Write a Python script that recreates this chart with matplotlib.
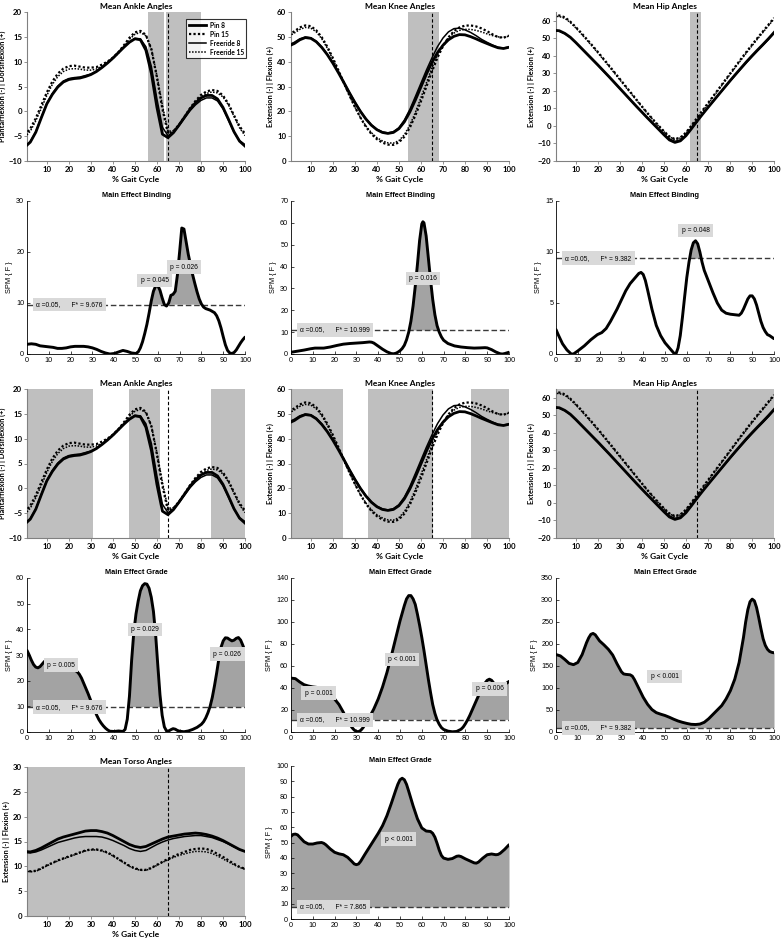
import numpy as np
import matplotlib
matplotlib.use("Agg")
import matplotlib.pyplot as plt

# ---- joint angle curves, % gait cycle every 2.5 ----
pct = np.arange(0, 100.1, 2.5)
series_names = ["Pin 8", "Pin 15", "Freeride 8", "Freeride 15"]

ankle_pin8 = [-7.2,-6.2,-4.2,-1.3,1.5,3.4,4.9,5.9,6.4,6.6,6.7,7.0,7.4,8.0,8.8,9.7,10.7,11.8,12.9,13.9,14.6,14.4,12.3,7.6,0.8,-4.6,-5.3,-4.3,-2.8,-1.2,0.4,1.7,2.7,3.2,3.2,2.5,0.8,-1.6,-4.1,-6.0,-7.0]
ankle_pin15 = [-4.8,-3.5,-1.4,1.2,3.8,6.0,7.6,8.6,9.1,9.2,9.0,8.8,8.8,8.9,9.4,10.0,10.8,11.9,13.3,14.8,15.9,16.2,15.4,12.5,6.8,0.5,-4.5,-4.0,-2.7,-1.1,0.6,2.1,3.3,4.0,4.3,4.1,3.2,1.5,-0.8,-3.0,-4.5]
ankle_fr8 = [-7.0,-6.1,-4.1,-1.2,1.6,3.6,5.1,6.1,6.6,6.8,6.9,7.2,7.5,8.1,8.9,9.8,10.8,11.9,13.0,14.0,14.7,14.6,13.0,9.0,2.5,-3.2,-4.9,-4.2,-2.9,-1.4,0.1,1.3,2.2,2.7,2.7,2.1,0.5,-1.8,-4.2,-5.9,-6.7]
ankle_fr15 = [-5.2,-4.0,-1.9,0.6,3.2,5.4,7.0,8.0,8.5,8.6,8.5,8.3,8.3,8.5,9.1,9.8,10.6,11.7,13.0,14.5,15.5,15.9,15.2,12.5,7.2,1.2,-4.0,-3.9,-2.7,-1.2,0.4,1.8,2.9,3.6,3.9,3.7,2.9,1.3,-1.0,-3.3,-4.9]

knee_pin8 = [46.3,47.3,48.8,49.7,49.4,48.0,45.7,42.8,39.4,35.6,31.6,27.5,23.6,20.0,16.9,14.4,12.6,11.5,11.1,11.5,13.0,15.8,19.8,24.6,29.8,35.0,39.7,43.6,46.6,48.8,50.2,50.9,50.8,50.1,49.2,48.2,47.3,46.4,45.6,45.3,45.8]
knee_pin15 = [50.8,52.2,53.8,54.6,54.3,52.6,49.8,46.0,41.5,36.6,31.5,26.5,21.8,17.5,13.8,10.9,8.8,7.4,6.6,6.5,7.5,9.8,13.5,18.4,24.0,30.0,36.0,41.6,46.2,49.8,52.3,53.8,54.5,54.6,54.2,53.4,52.3,51.0,49.9,49.6,50.5]
knee_fr8 = [46.8,47.8,49.2,49.9,49.6,48.2,45.9,43.0,39.6,35.8,31.8,27.7,23.8,20.2,17.1,14.6,12.8,11.7,11.3,11.8,13.4,16.5,20.8,26.0,31.3,36.6,41.5,46.0,49.5,52.0,53.3,53.5,52.8,51.8,50.5,49.0,47.8,46.7,45.8,45.5,45.9]
knee_fr15 = [50.3,51.5,53.0,53.8,53.5,52.0,49.2,45.4,41.0,36.2,31.2,26.3,21.7,17.6,14.1,11.4,9.4,8.1,7.3,7.2,8.2,10.6,14.5,19.6,25.5,31.5,37.5,42.7,46.8,49.6,51.5,52.6,53.0,53.0,52.6,52.0,51.2,50.5,50.0,49.7,50.3]

hip_pin8 = [54.6,54.3,52.8,50.6,47.6,44.4,41.2,38.0,34.8,31.5,28.2,24.8,21.4,18.0,14.6,11.2,7.9,4.6,1.4,-1.8,-5.0,-8.0,-9.4,-8.5,-5.6,-1.6,2.6,6.6,10.5,14.3,18.1,21.9,25.7,29.4,33.0,36.6,40.0,43.3,46.5,49.8,53.3]
hip_pin15 = [63.2,63.0,62.0,59.5,56.4,53.0,49.5,45.9,42.2,38.4,34.6,30.7,26.8,22.9,19.0,15.1,11.2,7.4,3.8,0.3,-3.0,-6.0,-7.5,-6.6,-3.8,0.2,4.5,8.8,13.0,17.2,21.4,25.6,29.8,34.0,38.2,42.3,46.3,50.2,54.0,57.8,61.6]
hip_fr8 = [54.2,54.0,52.6,50.4,47.4,44.2,41.0,37.8,34.6,31.3,28.0,24.7,21.3,17.9,14.5,11.2,7.9,4.7,1.6,-1.5,-4.6,-7.4,-8.8,-8.0,-5.2,-1.3,2.8,6.7,10.5,14.2,18.0,21.7,25.4,29.0,32.6,36.1,39.5,42.8,46.0,49.3,52.8]
hip_fr15 = [62.6,62.4,61.4,59.0,55.9,52.5,49.0,45.4,41.7,37.9,34.1,30.2,26.3,22.4,18.6,14.7,10.9,7.1,3.5,0.0,-3.3,-6.2,-7.8,-6.9,-4.2,-0.3,4.0,8.3,12.5,16.7,20.9,25.1,29.3,33.5,37.6,41.7,45.7,49.6,53.4,57.2,61.0]

torso_pin8 = [13.0,12.9,13.2,13.7,14.3,14.9,15.5,15.9,16.2,16.5,16.8,17.1,17.2,17.2,17.0,16.7,16.2,15.6,15.0,14.4,14.0,13.8,14.0,14.5,15.0,15.5,15.9,16.1,16.3,16.5,16.6,16.7,16.6,16.4,16.1,15.7,15.2,14.6,14.0,13.4,13.0]
torso_pin15 = [9.2,9.0,9.1,9.6,10.2,10.7,11.2,11.6,12.0,12.4,12.8,13.2,13.4,13.4,13.2,12.8,12.2,11.5,10.8,10.1,9.6,9.3,9.3,9.7,10.3,10.9,11.5,12.0,12.5,12.9,13.3,13.5,13.6,13.5,13.1,12.5,11.9,11.2,10.5,9.9,9.5]
torso_fr8 = [12.8,12.7,12.9,13.3,13.8,14.3,14.8,15.1,15.4,15.7,15.9,16.0,16.0,16.0,15.9,15.6,15.2,14.7,14.2,13.6,13.2,13.0,13.2,13.8,14.4,14.9,15.3,15.6,15.8,16.0,16.1,16.2,16.2,16.0,15.8,15.4,15.0,14.5,13.9,13.4,13.0]
torso_fr15 = [9.1,8.9,9.0,9.5,10.1,10.6,11.1,11.5,11.9,12.3,12.7,13.1,13.3,13.3,13.1,12.7,12.1,11.4,10.7,10.0,9.5,9.2,9.2,9.6,10.2,10.8,11.3,11.8,12.2,12.5,12.8,13.0,13.0,12.9,12.6,12.1,11.5,10.9,10.3,9.8,9.4]

# ---- SPM {F} curves ----
spm_bind_ankle_x = [0,2,4,6,8,10,12,14,16,18,20,22,24,26,28,30,32,34,36,38,40,42,44,46,48,50,51,52,53,54,55,56,57,58,59,60,61,62,63,64,65,66,67,68,69,70,71,72,73,74,75,76,77,78,79,80,81,82,84,86,87,88,89,90,91,92,93,94,95,96,97,98,99,100]
spm_bind_ankle = [1.9,2.0,1.9,1.6,1.5,1.4,1.3,1.1,1.1,1.2,1.4,1.5,1.5,1.5,1.4,1.2,0.9,0.5,0.2,0.0,0.1,0.4,0.7,0.5,0.2,0.1,0.4,1.2,2.4,4.0,5.8,8.0,10.4,12.3,13.3,13.4,12.5,11.0,9.7,9.4,10.0,11.5,11.7,12.3,15.5,20.0,24.7,24.5,22.0,19.5,17.5,15.5,13.8,12.2,10.8,9.8,9.2,8.9,8.6,8.1,7.5,6.5,5.1,3.4,1.8,0.7,0.2,0.1,0.3,0.8,1.5,2.2,2.8,3.3]
spm_bind_knee_x = [0,3,6,9,11,13,15,18,21,24,27,30,33,36,37,38,40,42,44,46,47,48,49,50,51,52,53,54,55,56,57,58,59,60,60.5,61,62,63,64,65,66,67,68,69,70,72,75,78,81,84,87,89,90,92,94,96,97,98,100]
spm_bind_knee = [0.8,1.3,1.8,2.4,2.7,2.7,2.7,3.2,3.9,4.5,4.8,5.0,5.2,5.5,5.4,5.0,3.6,2.2,1.0,0.2,0.1,0.3,0.8,1.5,2.5,4.0,6.5,10.0,15.0,22.0,31.0,41.0,52.0,59.5,60.5,60.0,54.0,44.0,34.0,25.0,18.0,13.0,10.0,7.8,6.3,4.8,3.7,3.2,2.9,2.7,2.8,2.9,2.8,2.0,0.9,0.1,0.0,0.2,0.8]
spm_bind_hip_x = [0,1,3,5,7,8,10,13,16,19,21,23,25,28,30,32,34,36,38,39,40,41,42,44,46,48,50,52,54,55,56,57,58,59,60,61,62,63,64,65,66,67,68,70,72,74,76,78,80,82,84,85,86,87,88,89,90,91,92,93,94,95,96,97,98,100]
spm_bind_hip = [2.4,1.9,1.0,0.4,0.0,0.0,0.3,0.8,1.4,1.9,2.1,2.5,3.2,4.4,5.3,6.2,6.9,7.4,7.9,8.0,7.8,7.2,6.3,4.4,2.8,1.8,1.1,0.6,0.1,0.0,0.6,1.8,3.6,5.6,7.5,9.0,10.2,10.9,11.1,10.8,10.0,9.0,8.2,7.1,6.0,5.0,4.3,4.0,3.9,3.85,3.8,4.0,4.4,4.9,5.4,5.7,5.7,5.4,4.8,4.0,3.2,2.6,2.2,1.9,1.8,1.5]

spm_grade_ankle_x = [0,1,2,3,4,5,6,7,8,10,12,14,16,18,20,22,23,24,25,26,27,28,29,30,31,32,33,34,35,36,37,38,40,42,44,45,46,47,48,49,50,51,52,53,54,55,56,57,58,59,60,61,62,63,64,65,66,67,68,69,70,72,74,76,78,80,81,82,83,84,85,86,87,88,89,90,91,92,93,94,95,96,97,98,99,100]
spm_grade_ankle = [31.8,30.0,28.0,26.3,25.3,25.0,25.5,26.5,27.5,27.5,26.8,26.0,25.5,25.0,24.5,24.0,23.5,22.5,21.0,19.0,17.0,15.0,12.8,10.5,8.5,6.5,4.8,3.5,2.4,1.5,0.8,0.3,0.2,0.4,0.2,1.0,5.0,14.0,28.0,39.0,46.0,51.0,55.0,57.0,57.8,57.6,56.0,52.5,47.0,38.0,26.0,14.5,6.5,2.0,0.4,0.4,0.9,1.3,1.1,0.6,0.3,0.1,0.4,1.0,1.8,3.0,4.0,5.5,7.5,10.0,13.5,18.0,23.0,28.5,33.0,35.5,36.7,36.6,36.0,35.5,35.8,36.5,36.8,35.8,33.8,31.5]
spm_grade_knee_x = [0,2,4,6,8,10,12,14,16,18,20,22,24,25,26,27,28,29,30,31,32,33,34,35,36,38,40,42,44,46,48,50,52,53,54,55,56,57,58,59,60,61,62,63,64,65,66,67,68,69,70,72,74,76,78,79,80,81,82,84,86,88,89,90,91,92,93,94,95,96,97,98,99,100]
spm_grade_knee = [49,48.5,45.5,43,41.8,41,40.5,39,37,34,30,25,18,14,10.5,7,4,1.8,0.5,0.3,1.5,3.8,7,10,13.5,21,30,41,54,69,85,101,115,121,124,124,121,116,107,97,86,74,61,48,36,25,17,11,7,4,2.3,0.8,0.2,0.5,2.5,4.5,7.5,11,15,24,33,41,44.5,47,48,47,44.5,42.3,41.2,41,41.5,43,44.5,46]
spm_grade_hip_x = [0,2,4,6,8,10,12,14,15,16,17,18,19,20,22,24,26,28,30,31,32,34,35,36,38,40,42,44,46,48,50,52,54,56,58,60,62,64,66,68,70,72,74,76,78,80,82,84,86,87,88,89,90,91,92,93,94,95,96,97,98,99,100]
spm_grade_hip = [176,173,165,156,153,158,176,203,214,222,224,221,214,207,198,188,175,155,137,132,131,130,127,119,99,79,63,51,44,40.5,37.5,33.5,29,25,22,19.5,17.5,17,18,22,30,40,50,60,75,94,120,158,215,250,278,296,302,298,283,260,235,212,197,188,183,181,180]
spm_grade_torso_x = [0,1,2,3,4,6,8,10,12,14,15,16,18,20,22,24,26,28,29,30,31,32,34,36,38,40,42,44,46,48,49,50,51,52,53,54,56,58,60,62,64,65,66,67,68,69,70,72,74,76,77,78,80,82,84,85,86,88,90,92,94,95,96,98,100]
spm_grade_torso = [54,55.3,55.5,55,53.5,50.5,49,49,49.7,50,49.5,48.5,45.8,43.6,42.6,42,40.3,37.5,36,35.5,36,37.8,42.5,47,51.5,56,61,67.5,75.5,84,88,91,92,91,88,83.5,74,65.5,59.5,57.5,57.2,56,53.5,49.5,45,41.5,39.8,39,39.5,41,41.2,40.8,39.3,38,36.7,36.5,37.2,39.8,42,42.5,42,42.2,43,45.5,48.5]

W, H = 782, 940
fig = plt.figure(figsize=(W / 100, H / 100), dpi=100)
fig.patch.set_facecolor("white")

ANG_FONT = ["Lato", "DejaVu Sans"]
SPM_FONT = ["Liberation Sans", "DejaVu Sans"]
SHADE = "#bfbfbf"


def px_axes(l, t, r, b):
    return fig.add_axes([l / W, 1 - b / H, (r - l) / W, (b - t) / H])


def angle_plot(ax, title, ylabel, curves, ylim, yticks, spans, legend=False):
    for a, b in spans:
        ax.axvspan(a, b, color=SHADE, lw=0, zorder=0)
    ax.axvline(65, color="k", lw=0.8, ls=(0, (3, 2)), zorder=1)
    styles = [dict(ls="-", lw=2.0), dict(ls=(0, (1, 1)), lw=1.6),
              dict(ls="-", lw=1.1), dict(ls=(0, (1, 1)), lw=1.1)]
    for name, vals, st in zip(series_names, curves, styles):
        ax.plot(pct, vals, color="k", label=name, zorder=3, **st)
    ax.set_xlim(1, 100)
    ax.set_ylim(*ylim)
    ax.set_xticks(range(10, 101, 10))
    ax.set_yticks(yticks)
    ax.set_title(title, fontsize=6, fontweight="bold", family=ANG_FONT, pad=2)
    ax.set_xlabel("% Gait Cycle", fontsize=6, fontweight="bold", family=ANG_FONT, labelpad=2)
    ax.set_ylabel(ylabel, fontsize=5.3, fontweight="bold", family=ANG_FONT, labelpad=2)
    for s in ["top", "right"]:
        ax.spines[s].set_visible(False)
    for s in ["left", "bottom"]:
        ax.spines[s].set_color("#808080")
        ax.spines[s].set_linewidth(0.8)
    ax.tick_params(direction="out", length=2, width=0.6, color="#808080", pad=1.5, labelsize=5.6)
    for lab in ax.get_xticklabels() + ax.get_yticklabels():
        lab.set_family(ANG_FONT)
        lab.set_fontweight("bold")
    if legend:
        leg = ax.legend(loc="upper left", bbox_to_anchor=(0.715, 0.975),
                        frameon=True, fancybox=False, edgecolor="k", handlelength=2.6,
                        borderpad=0.4, labelspacing=0.3, handletextpad=0.5,
                        prop=dict(family=ANG_FONT, weight="bold", size=4.8))
        leg.get_frame().set_linewidth(0.8)
        leg.set_zorder(5)


def spm_plot(ax, title, x, y, thr, ylim, yticks, plabels):
    x = np.array(x, dtype=float)
    y = np.array(y, dtype=float)
    ax.fill_between(x, y, thr, where=y > thr, interpolate=True, color="#a3a3a3", lw=0, zorder=1)
    ax.axhline(thr, color="#3a3a3a", lw=1.0, dashes=(4, 2), zorder=2)
    ax.plot(x, y, color="k", lw=2.1, zorder=3, solid_capstyle="round")
    box = dict(boxstyle="square,pad=0.5", facecolor="#d9d9d9", edgecolor="none")
    ax.text(4.3, thr, "\u03b1 =0.05,      F* = %.3f" % thr, fontsize=4.8, family=SPM_FONT,
            ha="left", va="center", bbox=box, zorder=6)
    for px, py, s in plabels:
        ax.text(px, py, s, fontsize=4.8, family=SPM_FONT, ha="center", va="center",
                bbox=box, zorder=6)
    ax.set_xlim(0, 100)
    ax.set_ylim(*ylim)
    ax.set_xticks(range(0, 101, 10))
    ax.set_yticks(yticks)
    ax.set_title(title, fontsize=5.3, fontweight="bold", family=SPM_FONT, pad=3)
    ax.set_ylabel("SPM { F }", fontsize=5.3, family=SPM_FONT, labelpad=2)
    for s in ["top", "right"]:
        ax.spines[s].set_visible(False)
    for s in ["left", "bottom"]:
        ax.spines[s].set_linewidth(0.6)
    ax.tick_params(direction="in", length=2, width=0.5, pad=2, labelsize=5.2)
    for lab in ax.get_xticklabels() + ax.get_yticklabels():
        lab.set_family(SPM_FONT)


cols = [(27, 245), (291, 509), (556, 774)]
ank_lab = "Plantarflexion (-) | Dorsiflexion (+)"
ext_lab = "Extension (-) | Flexion (+)"
ankle = [ankle_pin8, ankle_pin15, ankle_fr8, ankle_fr15]
knee = [knee_pin8, knee_pin15, knee_fr8, knee_fr15]
hip = [hip_pin8, hip_pin15, hip_fr8, hip_fr15]
torso = [torso_pin8, torso_pin15, torso_fr8, torso_fr15]

# row 1 - binding
angle_plot(px_axes(cols[0][0], 12, cols[0][1], 161), "Mean Ankle Angles", ank_lab, ankle,
           (-10, 20), range(-10, 21, 5), [(56, 63), (64, 80)], legend=True)
angle_plot(px_axes(cols[1][0], 12, cols[1][1], 161), "Mean Knee Angles", ext_lab, knee,
           (0, 60), range(0, 61, 10), [(54, 68)])
angle_plot(px_axes(cols[2][0], 12, cols[2][1], 161), "Mean Hip Angles", ext_lab, hip,
           (-20, 65), range(-20, 61, 10), [(62, 67)])

# row 2 - SPM binding
spm_plot(px_axes(cols[0][0], 201, cols[0][1], 354), "Main Effect Binding",
         spm_bind_ankle_x, spm_bind_ankle, 9.676, (0, 30), range(0, 31, 10),
         [(58.5, 14.4, "p = 0.045"), (72.1, 17.0, "p = 0.026")])
spm_plot(px_axes(cols[1][0], 201, cols[1][1], 354), "Main Effect Binding",
         spm_bind_knee_x, spm_bind_knee, 10.999, (0, 70), range(0, 71, 10),
         [(60.5, 34.5, "p = 0.016")])
spm_plot(px_axes(cols[2][0], 201, cols[2][1], 354), "Main Effect Binding",
         spm_bind_hip_x, spm_bind_hip, 9.382, (0, 15), range(0, 16, 5),
         [(64, 12.1, "p = 0.048")])

# row 3 - grade
angle_plot(px_axes(cols[0][0], 389, cols[0][1], 538), "Mean Ankle Angles", ank_lab, ankle,
           (-10, 20), range(-10, 21, 5), [(1, 31), (47.4, 61.5), (84.5, 100)])
angle_plot(px_axes(cols[1][0], 389, cols[1][1], 538), "Mean Knee Angles", ext_lab, knee,
           (0, 60), range(0, 61, 10), [(1, 24.6), (36, 65.5), (82.7, 100)])
angle_plot(px_axes(cols[2][0], 389, cols[2][1], 538), "Mean Hip Angles", ext_lab, hip,
           (-20, 65), range(-20, 61, 10), [(1, 100)])

# row 4 - SPM grade
spm_plot(px_axes(cols[0][0], 578, cols[0][1], 732), "Main Effect Grade",
         spm_grade_ankle_x, spm_grade_ankle, 9.676, (0, 60), range(0, 61, 10),
         [(15.6, 26.0, "p = 0.005"), (54, 39.9, "p = 0.029"), (91.9, 30.3, "p = 0.026")])
spm_plot(px_axes(cols[1][0], 578, cols[1][1], 732), "Main Effect Grade",
         spm_grade_knee_x, spm_grade_knee, 10.999, (0, 140), range(0, 141, 20),
         [(12.6, 35.4, "p = 0.001"), (50.9, 65.9, "p < 0.001"), (91.1, 39.3, "p = 0.006")])
spm_plot(px_axes(cols[2][0], 578, cols[2][1], 732), "Main Effect Grade",
         spm_grade_hip_x, spm_grade_hip, 9.382, (0, 350), range(0, 351, 50),
         [(49.8, 126, "p < 0.001")])

# row 5 - torso
angle_plot(px_axes(cols[0][0], 767, cols[0][1], 916), "Mean Torso Angles", ext_lab, torso,
           (0, 30), range(0, 31, 5), [(1, 100)])
spm_plot(px_axes(cols[1][0], 766, cols[1][1], 919), "Main Effect Grade",
         spm_grade_torso_x, spm_grade_torso, 7.865, (0, 100), range(0, 101, 10),
         [(49.3, 52.2, "p < 0.001")])

fig.savefig("out.png", dpi=100, facecolor="white")
